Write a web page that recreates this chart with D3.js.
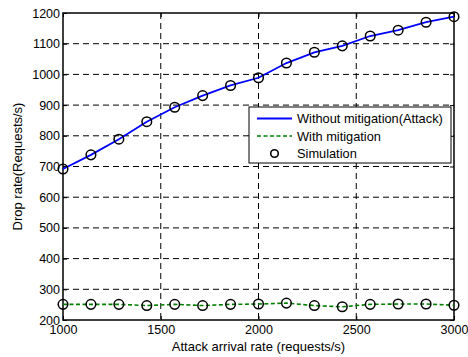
<!DOCTYPE html>
<html>
<head>
<meta charset="utf-8">
<script src="https://cdn.jsdelivr.net/npm/d3@7"></script>
<style>
  body { margin: 0; background: #fff; }
  text { font-family: Arial, "Liberation Sans", sans-serif; }
</style>
</head>
<body>
<div id="chart"></div>
<script>
// attack arrival rate, 15 sample points from 1000 to 3000
const attackRates = [1000, 1142.9, 1285.7, 1428.6, 1571.4, 1714.3, 1857.1, 2000,
                     2142.9, 2285.7, 2428.6, 2571.4, 2714.3, 2857.1, 3000];
const withoutMitigation = [692, 738, 789, 846, 893, 931, 964, 989,
                           1037, 1072, 1093, 1125, 1144, 1170, 1188];
const withMitigation = [251, 251, 251, 247, 251, 247, 251, 252,
                        255, 247, 243, 251, 252, 252, 248];
const xTicks = [1000, 1500, 2000, 2500, 3000];
const yTicks = [200, 300, 400, 500, 600, 700, 800, 900, 1000, 1100, 1200];

const width = 468, height = 357;
const margin = { top: 13, right: 14, bottom: 37, left: 63 };
const innerW = width - margin.left - margin.right;
const innerH = height - margin.top - margin.bottom;

const svg = d3.select("#chart").append("svg")
    .attr("width", width)
    .attr("height", height);

const g = svg.append("g")
    .attr("transform", `translate(${margin.left},${margin.top})`);

const x = d3.scaleLinear().domain([1000, 3000]).range([0, innerW]);
const y = d3.scaleLinear().domain([200, 1200]).range([innerH, 0]);

// grid lines (dashed, matlab style)
g.append("g").selectAll("line")
    .data(xTicks.slice(1, -1))
    .join("line")
    .attr("x1", d => x(d)).attr("x2", d => x(d))
    .attr("y1", 0).attr("y2", innerH)
    .attr("stroke", "#000")
    .attr("stroke-width", 1)
    .attr("stroke-dasharray", "6,4");

g.append("g").selectAll("line")
    .data(yTicks.slice(1, -1))
    .join("line")
    .attr("x1", 0).attr("x2", innerW)
    .attr("y1", d => y(d)).attr("y2", d => y(d))
    .attr("stroke", "#000")
    .attr("stroke-width", 1)
    .attr("stroke-dasharray", "6,4");

// axes with inward ticks
const tickLen = 4;
g.append("g")
    .attr("transform", `translate(0,${innerH})`)
    .call(d3.axisBottom(x).tickValues(xTicks).tickSize(-tickLen).tickPadding(5).tickFormat(d3.format("d")))
    .call(a => a.select(".domain").remove())
    .call(a => a.selectAll("text").attr("font-size", 12.5).attr("fill", "#000"));

g.append("g")
    .call(d3.axisLeft(y).tickValues(yTicks).tickSize(-tickLen).tickPadding(3).tickFormat(d3.format("d")))
    .call(a => a.select(".domain").remove())
    .call(a => a.selectAll("text").attr("font-size", 12.5).attr("fill", "#000"));

g.append("g")
    .call(d3.axisTop(x).tickValues(xTicks).tickSize(-tickLen).tickFormat(""))
    .call(a => a.select(".domain").remove());

g.append("g")
    .attr("transform", `translate(${innerW},0)`)
    .call(d3.axisRight(y).tickValues(yTicks).tickSize(-tickLen).tickFormat(""))
    .call(a => a.select(".domain").remove());

// plot box
g.append("rect")
    .attr("width", innerW).attr("height", innerH)
    .attr("fill", "none")
    .attr("stroke", "#000")
    .attr("stroke-width", 1.5);

const blueData = attackRates.map((r, i) => [r, withoutMitigation[i]]);
const greenData = attackRates.map((r, i) => [r, withMitigation[i]]);

const line = d3.line().x(d => x(d[0])).y(d => y(d[1]));

g.append("path")
    .datum(blueData)
    .attr("fill", "none")
    .attr("stroke", "#0000ff")
    .attr("stroke-width", 1.8)
    .attr("d", line);

g.append("path")
    .datum(greenData)
    .attr("fill", "none")
    .attr("stroke", "#008000")
    .attr("stroke-width", 1.6)
    .attr("stroke-dasharray", "4,2.5")
    .attr("d", line);

// simulation markers
g.append("g").selectAll("circle")
    .data(blueData.concat(greenData))
    .join("circle")
    .attr("cx", d => x(d[0]))
    .attr("cy", d => y(d[1]))
    .attr("r", 4.8)
    .attr("fill", "none")
    .attr("stroke", "#000")
    .attr("stroke-width", 1.5);

// legend
const legend = svg.append("g").attr("transform", "translate(249,107)");
legend.append("rect")
    .attr("width", 202).attr("height", 56)
    .attr("fill", "#fff")
    .attr("stroke", "#000")
    .attr("stroke-width", 1);

const legendItems = [
    { label: "Without mitigation(Attack)", kind: "blue" },
    { label: "With mitigation", kind: "green" },
    { label: "Simulation", kind: "circle" }
];
legendItems.forEach((item, i) => {
    const cy = 11.5 + i * 17.5;
    if (item.kind === "blue") {
        legend.append("line").attr("x1", 8).attr("x2", 43).attr("y1", cy).attr("y2", cy)
            .attr("stroke", "#0000ff").attr("stroke-width", 1.8);
    } else if (item.kind === "green") {
        legend.append("line").attr("x1", 8).attr("x2", 43).attr("y1", cy).attr("y2", cy)
            .attr("stroke", "#008000").attr("stroke-width", 1.6).attr("stroke-dasharray", "4,2.5");
    } else {
        legend.append("circle").attr("cx", 25.5).attr("cy", cy).attr("r", 3.8)
            .attr("fill", "none").attr("stroke", "#000").attr("stroke-width", 1.6);
    }
    legend.append("text")
        .attr("x", 48).attr("y", cy + 4.5)
        .attr("font-size", 12.8)
        .text(item.label);
});

// axis titles
svg.append("text")
    .attr("x", margin.left + innerW / 2)
    .attr("y", 351)
    .attr("text-anchor", "middle")
    .attr("font-size", 13)
    .text("Attack arrival rate (requests/s)");

svg.append("text")
    .attr("transform", `translate(22,${margin.top + innerH / 2}) rotate(-90)`)
    .attr("text-anchor", "middle")
    .attr("font-size", 13)
    .text("Drop rate(Requests/s)");
</script>
</body>
</html>
